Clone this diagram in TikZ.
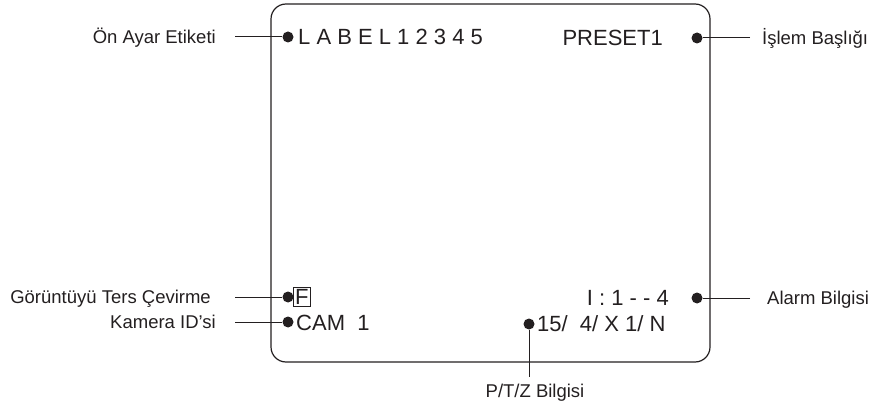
\documentclass[tikz,border=0pt]{standalone}
\usepackage{fontspec}
\setmainfont{Liberation Sans}
\usepackage{tikz}
\definecolor{txtgray}{RGB}{35,31,32}

\begin{document}
\begin{tikzpicture}[x=1pt,y=1pt,yscale=-1,xscale=1,
  lbl/.style={inner sep=0pt,font=\fontsize{18.5}{22}\selectfont,text=txtgray},
  osd/.style={inner sep=0pt,font=\fontsize{22}{26}\selectfont,text=txtgray},
  pin/.style={circle,fill=txtgray,inner sep=0pt,minimum size=11pt},
  lead/.style={draw=txtgray,line width=1pt}]
\useasboundingbox (0,0) rectangle (881,406);

%Shape: Rounded Rect [screen]
\draw [txtgray,line width=1.2pt,rounded corners=15] (271,4) rectangle (710,362);

% Dots
\node [pin] (dotlabel) at (288,37) {};
\node [pin] (dotpreset) at (697,38) {};
\node [pin] (dotflip) at (288,297) {};
\node [pin] (dotcam) at (288,322) {};
\node [pin] (dotalarm) at (697,298) {};
\node [pin] (dotptz) at (529,324) {};

% Screen Text
\node [osd,anchor=base west] (osdlabel) at (298,45) {L A B E L 1 2 3 4 5};
\node [osd,anchor=base east] (osdpreset) at (663,45.5) {PRESET1};
\node [osd,draw=txtgray,line width=0.8pt,inner sep=1.8pt,anchor=west] (osdflip) at (293,297) {F};
\node [osd,anchor=base west] (osdcam) at (296,330) {CAM\ \ 1};
\node [osd,anchor=base east] (osdalarm) at (669,305.5) {I : 1 - - 4};
\node [osd,anchor=base west] (osdptz) at (537,331.5) {15/\ \ 4/ X 1/ N};

% Labels
\node [lbl,anchor=base east] (lbllabel) at (216,43.6) {Ön Ayar Etiketi};
\node [lbl,anchor=base west] (lblpreset) at (762,44.6) {İşlem Başlığı};
\node [lbl,anchor=base east] (lblflip) at (211,303.6) {Görüntüyü Ters Çevirme};
\node [lbl,anchor=base east] (lblcam) at (216,328.6) {Kamera ID'si};
\node [lbl,anchor=base west] (lblalarm) at (767,304.6) {Alarm Bilgisi};
\node [lbl,anchor=base] (lblptz) at (535,397.6) {P/T/Z Bilgisi};

% Leader Lines
\draw [lead,shorten <=19pt] (lbllabel.east |- dotlabel) -- (dotlabel);
\draw [lead,shorten <=12pt] (lblpreset.west |- dotpreset) -- (dotpreset);
\draw [lead,shorten <=24pt] (lblflip.east |- dotflip) -- (dotflip);
\draw [lead,shorten <=19pt] (lblcam.east |- dotcam) -- (dotcam);
\draw [lead,shorten <=17pt] (lblalarm.west |- dotalarm) -- (dotalarm);
\draw [lead,shorten >=7pt] (dotptz) -- (dotptz |- lblptz.north);

\end{tikzpicture}
\end{document}
